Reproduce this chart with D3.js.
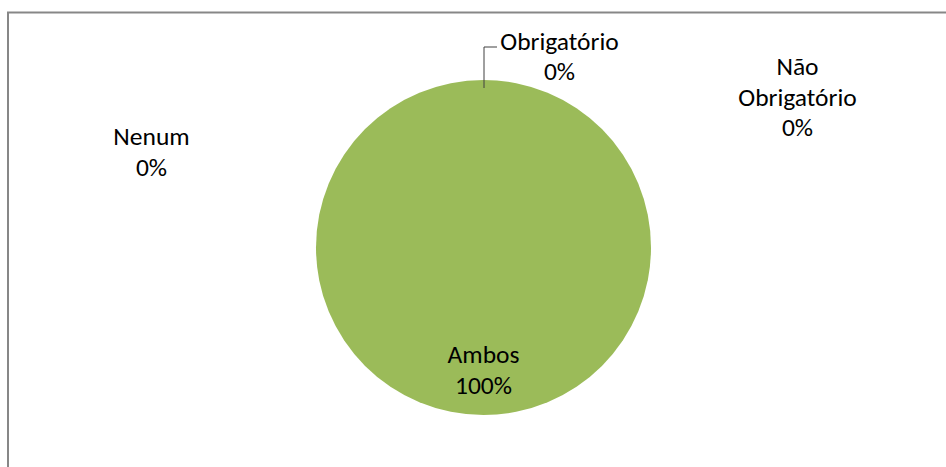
<!DOCTYPE html>
<html>
<head>
<meta charset="utf-8">
<script src="https://cdn.jsdelivr.net/npm/d3@7"></script>
<style>
  body { margin: 0; background: #fff; }
  text { font-family: Carlito, Calibri, "Open Sans", sans-serif; font-size: 25.5px; fill: #000; }
</style>
</head>
<body>
<div id="chart"></div>
<script>
// chart data
const categories = ['Ambos', 'Obrigatório', 'Não Obrigatório', 'Nenum'];
const values = [100, 0, 0, 0];
const pctLabels = ['100%', '0%', '0%', '0%'];
const colors = ['#9BBB59', '#4F81BD', '#C0504D', '#8064A2'];

const width = 946;
const height = 467;
const cx = 483.5, cy = 247.5, radius = 167.5;

const svg = d3.select('#chart')
  .append('svg')
  .attr('width', width)
  .attr('height', height);

// chart area border (left + top only are visible)
svg.append('path')
  .attr('d', 'M8,467 L8,12.5 L946,12.5')
  .attr('fill', 'none')
  .attr('stroke', '#878787')
  .attr('stroke-width', 2);

const g = svg.append('g').attr('transform', `translate(${cx},${cy})`);

const data = categories.map((c, i) => ({ name: c, value: values[i], pct: pctLabels[i], color: colors[i] }));

const pie = d3.pie().sort(null).value(d => d.value)
  .startAngle(Math.PI).endAngle(3 * Math.PI);
const arcs = pie(data);

const arc = d3.arc().innerRadius(0).outerRadius(radius);

g.selectAll('path.slice')
  .data(arcs)
  .enter()
  .append('path')
  .attr('class', 'slice')
  .attr('d', arc)
  .attr('fill', d => d.data.color);

// label placement (relative to pie centre), excel-style best fit for the zero slices
const labelPos = {
  'Ambos': { x: 0, y: 115.5 },
  'Obrigatório': { x: 76, y: -198 },
  'Não Obrigatório': { x: 314, y: -172.5 },
  'Nenum': { x: -332, y: -102.5 }
};
const labelLines = {
  'Ambos': ['Ambos'],
  'Obrigatório': ['Obrigatório'],
  'Não Obrigatório': ['Não', 'Obrigatório'],
  'Nenum': ['Nenum']
};
const lineH = 30.5;

const labels = g.selectAll('text.lbl')
  .data(arcs)
  .enter()
  .append('text')
  .attr('class', 'lbl')
  .attr('text-anchor', 'middle')
  .attr('transform', d => `translate(${labelPos[d.data.name].x},${labelPos[d.data.name].y})`);

labels.each(function(d) {
  const t = d3.select(this);
  const lines = labelLines[d.data.name].concat([d.data.pct]);
  lines.forEach((l, i) => {
    t.append('tspan').attr('x', 0).attr('y', i * lineH).text(l);
  });
});

// leader line for Obrigatório
g.append('path')
  .attr('d', `M0.5,${-radius + 8} L0.5,-200.5 L13.5,-200.5`)
  .attr('fill', 'none')
  .attr('stroke', '#404040')
  .attr('stroke-width', 1);
</script>
</body>
</html>
